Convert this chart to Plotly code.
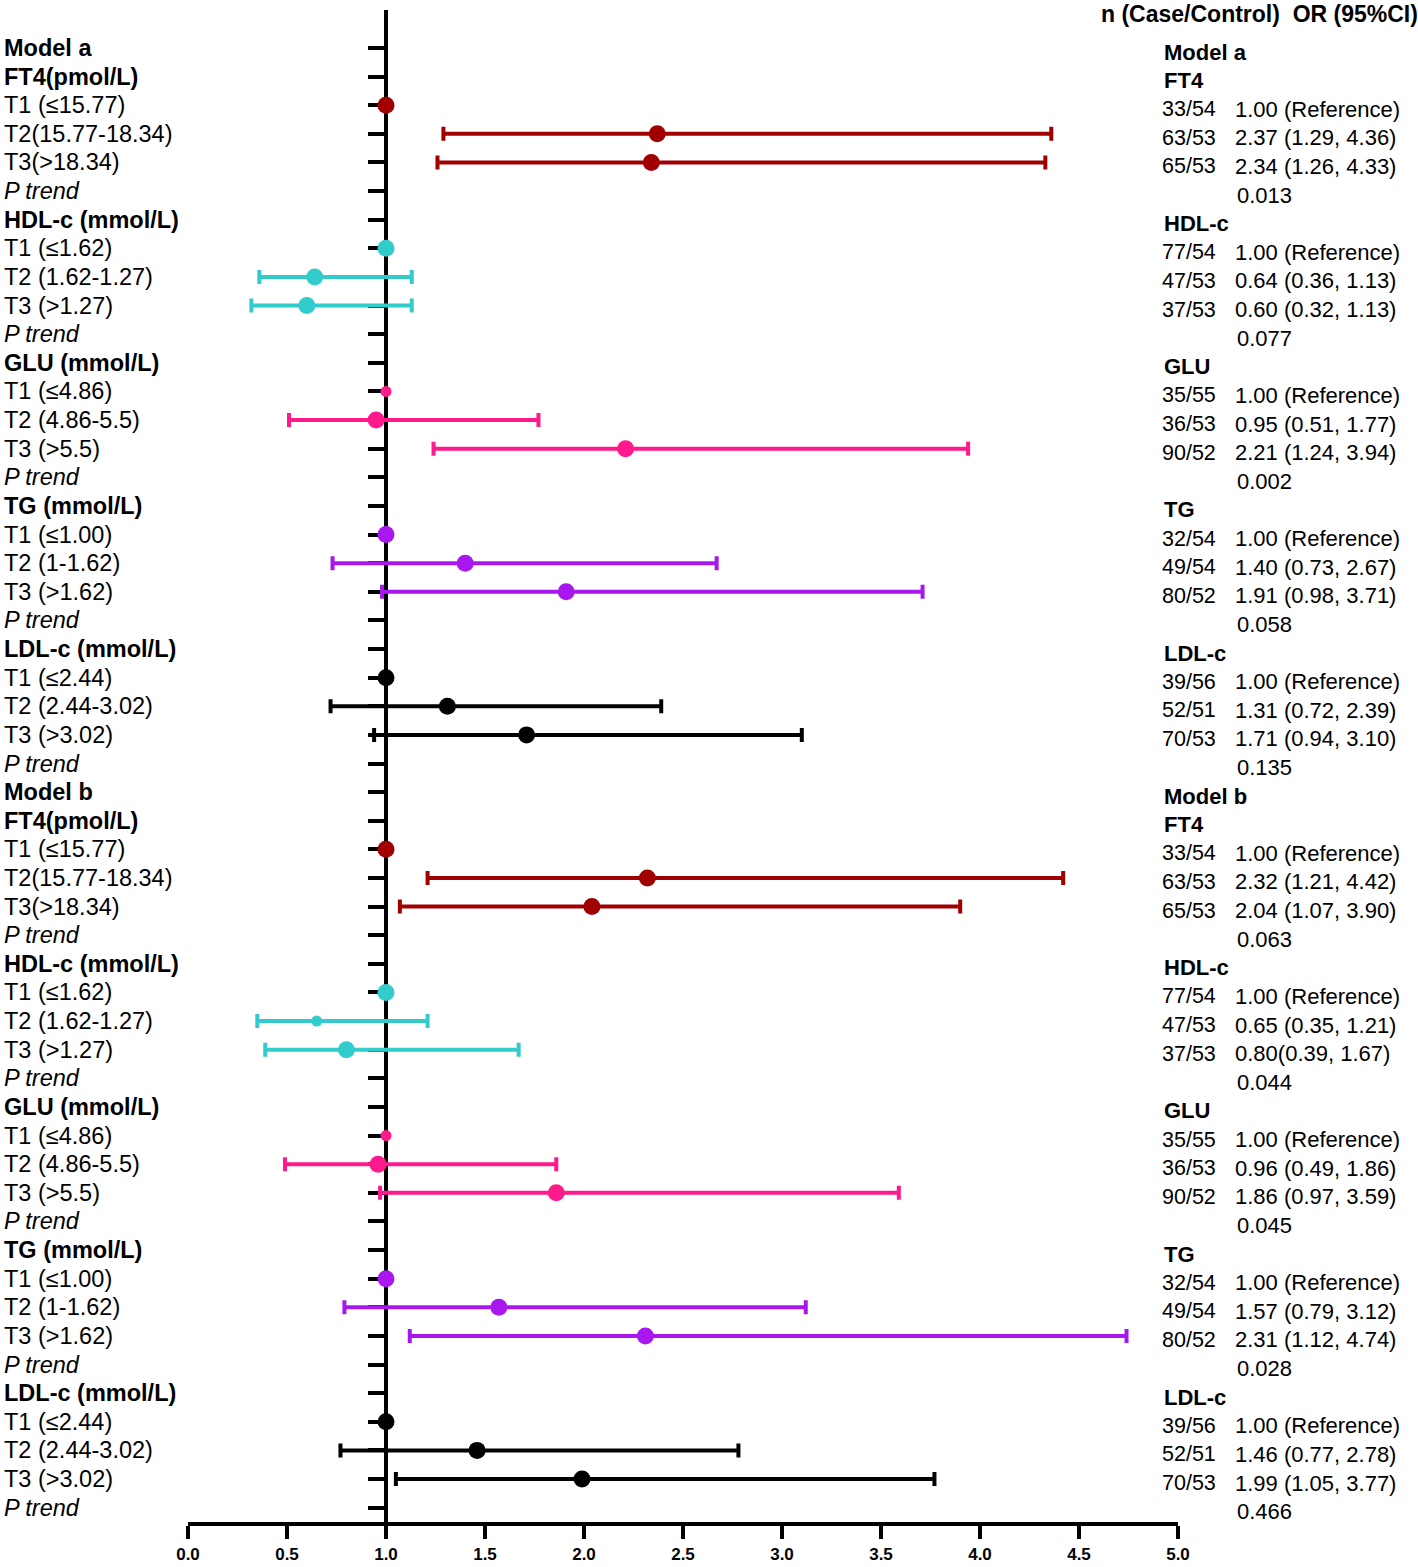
import plotly.graph_objects as go

# ---------------- data ----------------
models = ["Model a", "Model b"]
group_labels = ["FT4(pmol/L)", "HDL-c (mmol/L)", "GLU (mmol/L)", "TG (mmol/L)", "LDL-c (mmol/L)"]
group_short = ["FT4", "HDL-c", "GLU", "TG", "LDL-c"]
tertile_labels = [
    ["T1 (≤15.77)", "T2(15.77-18.34)", "T3(>18.34)"],
    ["T1 (≤1.62)", "T2 (1.62-1.27)", "T3 (>1.27)"],
    ["T1 (≤4.86)", "T2 (4.86-5.5)", "T3 (>5.5)"],
    ["T1 (≤1.00)", "T2 (1-1.62)", "T3 (>1.62)"],
    ["T1 (≤2.44)", "T2 (2.44-3.02)", "T3 (>3.02)"],
]
ptrend_label = "P trend"

or_a = [[1.00, 2.37, 2.34], [1.00, 0.64, 0.60], [1.00, 0.95, 2.21], [1.00, 1.40, 1.91], [1.00, 1.31, 1.71]]
lo_a = [[None, 1.29, 1.26], [None, 0.36, 0.32], [None, 0.51, 1.24], [None, 0.73, 0.98], [None, 0.72, 0.94]]
hi_a = [[None, 4.36, 4.33], [None, 1.13, 1.13], [None, 1.77, 3.94], [None, 2.67, 3.71], [None, 2.39, 3.10]]
p_a = ["0.013", "0.077", "0.002", "0.058", "0.135"]

or_b = [[1.00, 2.32, 2.04], [1.00, 0.65, 0.80], [1.00, 0.96, 1.86], [1.00, 1.57, 2.31], [1.00, 1.46, 1.99]]
lo_b = [[None, 1.21, 1.07], [None, 0.35, 0.39], [None, 0.49, 0.97], [None, 0.79, 1.12], [None, 0.77, 1.05]]
hi_b = [[None, 4.42, 3.90], [None, 1.21, 1.67], [None, 1.86, 3.59], [None, 3.12, 4.74], [None, 2.78, 3.77]]
p_b = ["0.063", "0.044", "0.045", "0.028", "0.466"]

n_counts = [
    ["33/54", "63/53", "65/53"],
    ["77/54", "47/53", "37/53"],
    ["35/55", "36/53", "90/52"],
    ["32/54", "49/54", "80/52"],
    ["39/56", "52/51", "70/53"],
]
or_text_a = [
    ["1.00 (Reference)", "2.37 (1.29, 4.36)", "2.34 (1.26, 4.33)"],
    ["1.00 (Reference)", "0.64 (0.36, 1.13)", "0.60 (0.32, 1.13)"],
    ["1.00 (Reference)", "0.95 (0.51, 1.77)", "2.21 (1.24, 3.94)"],
    ["1.00 (Reference)", "1.40 (0.73, 2.67)", "1.91 (0.98, 3.71)"],
    ["1.00 (Reference)", "1.31 (0.72, 2.39)", "1.71 (0.94, 3.10)"],
]
or_text_b = [
    ["1.00 (Reference)", "2.32 (1.21, 4.42)", "2.04 (1.07, 3.90)"],
    ["1.00 (Reference)", "0.65 (0.35, 1.21)", "0.80(0.39, 1.67)"],
    ["1.00 (Reference)", "0.96 (0.49, 1.86)", "1.86 (0.97, 3.59)"],
    ["1.00 (Reference)", "1.57 (0.79, 3.12)", "2.31 (1.12, 4.74)"],
    ["1.00 (Reference)", "1.46 (0.77, 2.78)", "1.99 (1.05, 3.77)"],
]
x_ticks = [0.0, 0.5, 1.0, 1.5, 2.0, 2.5, 3.0, 3.5, 4.0, 4.5, 5.0]
header_text = "n (Case/Control)  OR (95%CI)"

# ---------------- style ----------------
colors = ["#A00000", "#33CCCC", "#FF1A8C", "#A818EE", "#000000"]
small_markers = {(0, 2, 0), (1, 2, 0), (1, 1, 1)}
FONT = "Liberation Sans, Arial, sans-serif"
W, H = 1418, 1567
L, R, T, B = 188, 240, 10, 45
ROW_TOP, ROW_STEP = 48.0, 28.62
N_ROWS = 52
y_top = (T - ROW_TOP) / ROW_STEP
y_bot = (H - B - ROW_TOP) / ROW_STEP
plot_w = W - L - R
plot_h = H - T - B


def px_to_paper(px):
    return (px - L) / plot_w


def py_to_paper(py):
    return (H - B - py) / plot_h


fig = go.Figure()
annotations = []


def add_text(xpx, row, text, size=22, bold=False, italic=False, dy=0.0):
    t = text
    if italic:
        t = "<i>" + t + "</i>"
    annotations.append(dict(
        x=px_to_paper(xpx), xref="paper", y=row + dy, yref="y",
        text=t, showarrow=False, xanchor="left", yanchor="middle",
        font=dict(family=FONT, size=size, color="black", weight="bold" if bold else "normal"),
    ))


all_or = [or_a, or_b]
all_lo = [lo_a, lo_b]
all_hi = [hi_a, hi_b]
all_p = [p_a, p_b]
all_ortext = [or_text_a, or_text_b]

LS = 23.5
RDY = 0.14
for m, mname in enumerate(models):
    base = m * 26
    add_text(2, base, mname, size=LS, bold=True)
    add_text(1162, base, mname, bold=True, dy=RDY)
    for g in range(len(group_labels)):
        hrow = base + 1 + g * 5
        add_text(2, hrow, group_labels[g], size=LS, bold=True)
        add_text(1162, hrow, group_short[g], bold=True, dy=RDY)
        for t in range(3):
            r = hrow + 1 + t
            add_text(2, r, tertile_labels[g][t], size=LS)
            add_text(1160, r, n_counts[g][t], size=21.5, dy=RDY)
            add_text(1233, r, all_ortext[m][g][t], dy=RDY)
            orv = all_or[m][g][t]
            lo = all_lo[m][g][t]
            hi = all_hi[m][g][t]
            size = 11 if (m, g, t) in small_markers else 17
            tr = dict(x=[orv], y=[r], mode="markers",
                      marker=dict(color=colors[g], size=size, line=dict(width=0)),
                      showlegend=False, hoverinfo="x+y", cliponaxis=False)
            if lo is not None:
                tr["error_x"] = dict(type="data", symmetric=False,
                                     array=[hi - orv], arrayminus=[orv - lo],
                                     color=colors[g], thickness=4, width=7)
            fig.add_trace(go.Scatter(**tr))
        prow = hrow + 4
        add_text(2, prow, ptrend_label, size=LS, italic=True)
        add_text(1235, prow, all_p[m][g], dy=RDY)

annotations.append(dict(
    x=px_to_paper(1099), xref="paper", y=py_to_paper(-1), yref="paper", yanchor="top",
    text=header_text, showarrow=False, xanchor="left",
    font=dict(family=FONT, size=23, color="black", weight="bold"),
))

fig.update_layout(
    width=W, height=H, autosize=False,
    margin=dict(l=L, r=R, t=T, b=B, pad=0, autoexpand=False),
    paper_bgcolor="white", plot_bgcolor="white",
    annotations=annotations,
    xaxis=dict(range=[0, 5], tickvals=x_ticks, ticktext=[f"{v:.1f}" for v in x_ticks],
               showline=True, linewidth=4, linecolor="black", ticks="outside",
               ticklen=13, tickwidth=4, tickcolor="black", showgrid=False, zeroline=False,
               ticklabelstandoff=1, automargin=False,
               tickfont=dict(family=FONT, size=17, color="black", weight="bold"),
               fixedrange=True),
    yaxis=dict(range=[y_bot, y_top], anchor="free", position=px_to_paper(386),
               tickvals=list(range(N_ROWS)), showticklabels=False, automargin=False,
               showline=True, linewidth=4, linecolor="black", ticks="outside",
               ticklen=16, tickwidth=4, tickcolor="black", showgrid=False, zeroline=False,
               layer="below traces", fixedrange=True),
)

fig.write_html("out.html", config={"displayModeBar": False},
               post_script="document.body.style.margin='0';document.body.style.overflow='hidden';")
